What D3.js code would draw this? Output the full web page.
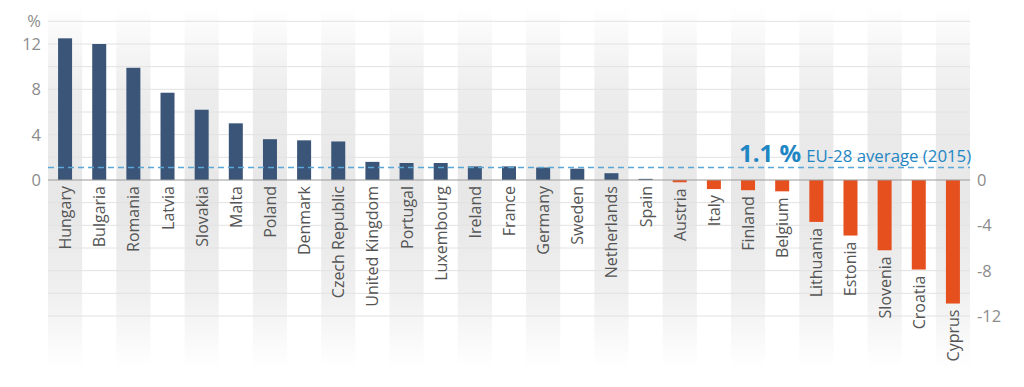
<!DOCTYPE html>
<html>
<head>
<meta charset="utf-8">
<script src="https://cdn.jsdelivr.net/npm/d3@7"></script>
<style>
  html, body { margin: 0; padding: 0; background: #fff; }
  svg { display: block; font-family: "Open Sans", "DejaVu Sans", sans-serif; }
</style>
</head>
<body>
<svg id="chart" width="1024" height="387"></svg>
<script>
const countries = ['Hungary', 'Bulgaria', 'Romania', 'Latvia', 'Slovakia', 'Malta', 'Poland',
  'Denmark', 'Czech Republic', 'United Kingdom', 'Portugal', 'Luxembourg', 'Ireland', 'France',
  'Germany', 'Sweden', 'Netherlands', 'Spain', 'Austria', 'Italy', 'Finland', 'Belgium',
  'Lithuania', 'Estonia', 'Slovenia', 'Croatia', 'Cyprus'];
const values = [12.5, 12.0, 9.9, 7.7, 6.2, 5.0, 3.6, 3.5, 3.4, 1.6, 1.5, 1.5, 1.2, 1.2,
  1.1, 1.0, 0.6, 0.1, -0.2, -0.8, -0.9, -1.0, -3.7, -4.9, -6.2, -7.9, -10.9];
const leftTicks = [0, 4, 8, 12];
const rightTicks = [0, -4, -8, -12];
const gridValues = [-12, -10, -8, -6, -4, -2, 2, 4, 6, 8, 10, 12, 14];
const euAverage = 1.1;

const svg = d3.select('#chart');
const left = 48, right = 970;

const x = d3.scaleBand().domain(countries).range([left, right]).padding(0);
const y = d3.scaleLinear().domain([-12, 12]).range([316, 44]);

// background column gradient
const defs = svg.append('defs');
const grad = defs.append('linearGradient')
  .attr('id', 'colGrad')
  .attr('gradientUnits', 'userSpaceOnUse')
  .attr('x1', 0).attr('x2', 0).attr('y1', 6).attr('y2', 368);
[[0, '#ffffff'], [0.25, '#ececec'], [0.55, '#e7e7e7'], [0.8, '#f0f0f0'], [1, '#ffffff']]
  .forEach(([o, c]) => grad.append('stop').attr('offset', o).attr('stop-color', c));

svg.append('g').selectAll('rect')
  .data(countries.filter((d, i) => i % 2 === 0))
  .enter()
  .append('rect')
    .attr('x', d => x(d))
    .attr('width', x.bandwidth())
    .attr('y', 6)
    .attr('height', 362)
    .style('fill', 'url(#colGrad)');

// grid lines
svg.append('g').selectAll('line')
  .data(gridValues)
  .enter()
  .append('line')
    .attr('x1', left).attr('x2', right)
    .attr('y1', d => y(d)).attr('y2', d => y(d))
    .style('stroke', '#e2e2e2')
    .style('stroke-width', 1);

// bars
const barW = 14;
svg.append('g').selectAll('rect')
  .data(countries)
  .enter()
  .append('rect')
    .attr('x', d => x(d) + (x.bandwidth() - barW) / 2)
    .attr('width', barW)
    .attr('y', (d, i) => y(Math.max(0, values[i])))
    .attr('height', (d, i) => Math.abs(y(values[i]) - y(0)))
    .style('fill', (d, i) => values[i] >= 0 ? '#3a5577' : '#e6501e');

// zero line
svg.append('line')
  .attr('x1', left).attr('x2', right)
  .attr('y1', y(0)).attr('y2', y(0))
  .style('stroke', '#9a9a9a')
  .style('stroke-width', 1);

// average line
svg.append('line')
  .attr('x1', left).attr('x2', right)
  .attr('y1', y(euAverage)).attr('y2', y(euAverage))
  .style('stroke', '#5aa8d8')
  .style('stroke-width', 1.5)
  .style('stroke-dasharray', '6,4');

const note = svg.append('text')
  .attr('x', 739)
  .attr('y', 162)
  .style('fill', '#1f86c4');
note.append('tspan')
  .style('font-size', '24px')
  .style('font-weight', 700)
  .text(euAverage + ' %');
note.append('tspan')
  .attr('dx', 5)
  .style('font-size', '16.8px')
  .text('EU-28 average (2015)');

// country labels
svg.append('g').selectAll('text')
  .data(countries)
  .enter()
  .append('text')
    .attr('transform', (d, i) => {
      const cx = x(d) + x.bandwidth() / 2 + 6;
      const cy = y(Math.min(0, values[i])) + 6;
      return `translate(${cx},${cy}) rotate(-90)`;
    })
    .attr('text-anchor', 'end')
    .style('font-size', '16px')
    .style('fill', '#555')
    .text(d => d);

// axes
const tickStyle = sel => sel
  .style('font-size', '16.5px')
  .style('fill', '#8c8c8c');

svg.append('g').selectAll('text')
  .data(leftTicks)
  .enter()
  .append('text')
    .attr('x', 41)
    .attr('y', d => y(d) + 6)
    .attr('text-anchor', 'end')
    .call(tickStyle)
    .text(d => d);

svg.append('text')
  .attr('x', 41)
  .attr('y', 27)
  .attr('text-anchor', 'end')
  .call(tickStyle)
  .text('%');

svg.append('g').selectAll('text')
  .data(rightTicks)
  .enter()
  .append('text')
    .attr('x', 977)
    .attr('y', d => y(d) + 6)
    .call(tickStyle)
    .text(d => d === 0 ? '0' : '-' + Math.abs(d));
</script>
</body>
</html>
